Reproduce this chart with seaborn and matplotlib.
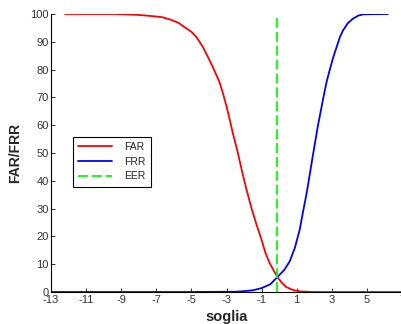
import pandas as pd
import numpy as np
import matplotlib
matplotlib.use("Agg")
import matplotlib.pyplot as plt
import seaborn as sns

# values
far_x = [-12.2, -9.3, -8.1, -7.5, -6.7, -6.2, -5.7, -5.4, -5.0, -4.7, -4.35, -4.0, -3.7,
         -3.4, -3.2, -3.0, -2.8, -2.65, -2.4, -2.1, -1.85, -1.6, -1.3, -1.0, -0.8,
         -0.55, -0.3, -0.1, 0.15, 0.4, 0.8, 1.2, 2.0, 7.0]
far_y = [100, 100, 99.7, 99.4, 98.9, 98.0, 96.7, 95.3, 93.6, 91.6, 88.2, 83.8, 79.8,
         75.5, 71.4, 66.8, 61.6, 57.4, 51.3, 43.0, 36.6, 30.7, 24.4, 18.8, 14.4,
         10.5, 7.6, 5.4, 3.3, 1.8, 0.7, 0.2, 0.0, 0.0]

frr_x = [-13, -5, -2.5, -2.0, -1.5, -1.0, -0.5, -0.1, 0.3, 0.6, 0.9, 1.17, 1.35, 1.57,
         1.75, 1.91, 2.2, 2.49, 2.7, 2.89, 3.1, 3.29, 3.45, 3.63, 3.9, 4.2, 4.5, 4.8, 6.2]
frr_y = [0, 0, 0.1, 0.3, 0.6, 1.4, 2.8, 5.4, 8.0, 11.0, 16.0, 22.4, 28.5, 35.7,
         42.5, 48.7, 59.5, 69.0, 75.5, 80.1, 84.8, 88.4, 91.5, 94.0, 96.6, 98.3, 99.4, 99.9, 100]

eer_x = [-0.1, -0.1]
eer_y = [0, 100]

x_ticks = list(range(-13, 8, 2))
y_ticks = list(range(0, 101, 10))

sns.set_style("white")
plt.rcParams['font.family'] = ['Liberation Sans', 'DejaVu Sans']
plt.rcParams['axes.unicode_minus'] = False

fig = plt.figure(figsize=(4.02, 3.24), dpi=100)
ax = fig.add_axes([51 / 402, 32 / 324, 351 / 402, 278 / 324])

far_df = pd.DataFrame({"soglia": far_x, "val": far_y})
frr_df = pd.DataFrame({"soglia": frr_x, "val": frr_y})
eer_df = pd.DataFrame({"soglia": eer_x, "val": eer_y})

sns.lineplot(data=far_df, x="soglia", y="val", color="#ff0000", lw=1.3,
             estimator=None, sort=False, label="FAR", ax=ax)
sns.lineplot(data=frr_df, x="soglia", y="val", color="#0000ff", lw=1.3,
             estimator=None, sort=False, label="FRR", ax=ax)
sns.lineplot(data=eer_df, x="soglia", y="val", color="#00ff00", lw=1.3,
             estimator=None, sort=False, label="EER", ax=ax, dashes=False)
ax.lines[-1].set_dashes((5.5, 2.2))

ax.set_xlim(-13, 7)
ax.set_ylim(0, 100)
ax.set_xticks(x_ticks)
ax.set_yticks(y_ticks)
ax.tick_params(direction="in", length=3, width=0.7, labelsize=8,
               labelcolor="#333333", color="#333333")
ax.tick_params(axis="x", bottom=True, pad=2.5)
ax.tick_params(axis="y", left=True, pad=1.5)
for s in ["top", "right"]:
    ax.spines[s].set_visible(False)
for s in ["left", "bottom"]:
    ax.spines[s].set_color("black")
    ax.spines[s].set_linewidth(0.8)

ax.set_xlabel("soglia", fontsize=10.5, fontweight="bold", labelpad=3)
ax.set_ylabel("FAR/FRR", fontsize=10, fontweight="bold", labelpad=6)

leg = ax.legend(loc="upper left", bbox_to_anchor=(0.063, 0.558), borderaxespad=0,
                fontsize=7.5, handlelength=3.2, handletextpad=1.2,
                labelspacing=0.45, borderpad=0.5, fancybox=False, framealpha=1)
leg.get_frame().set_edgecolor("black")
leg.get_frame().set_linewidth(0.8)

fig.savefig("out.png", dpi=100)
